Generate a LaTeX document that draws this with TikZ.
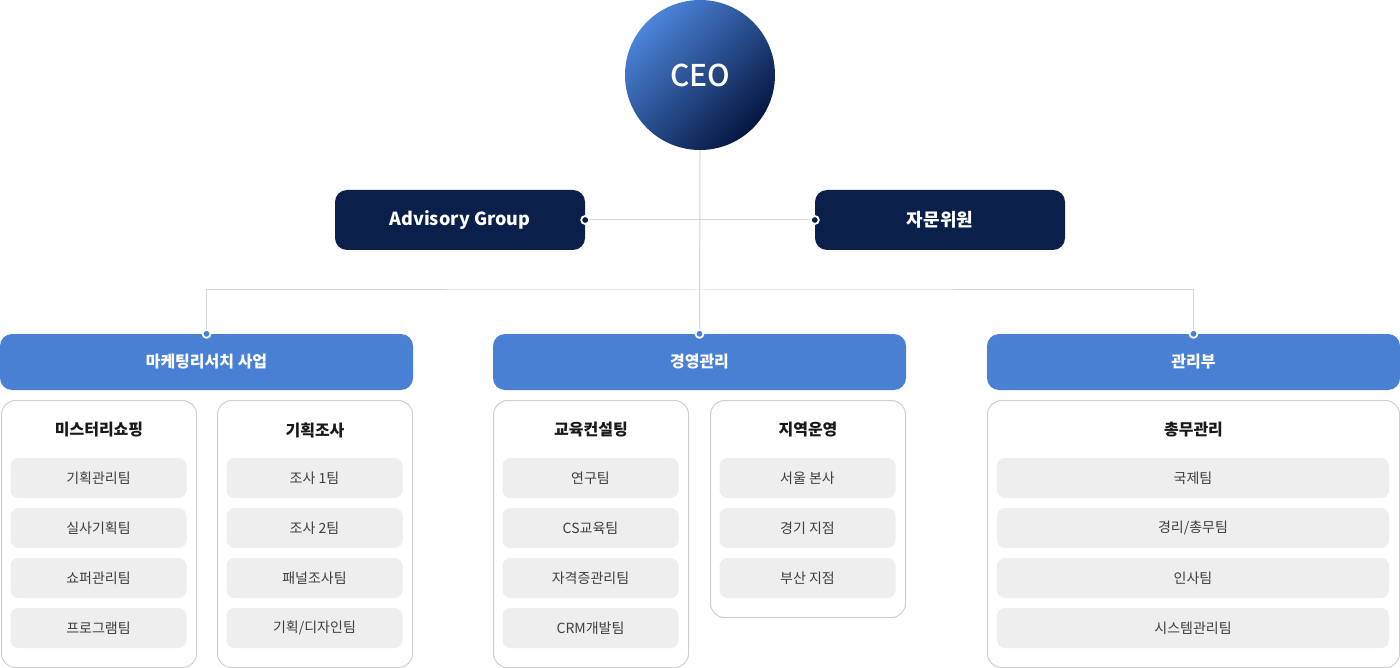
\documentclass[tikz,border=0pt]{standalone}
\usepackage{fontspec}
\setmainfont{Noto Sans CJK KR}
\newfontfamily\medfont{Noto Sans CJK KR Medium}
\usetikzlibrary{positioning}

\definecolor{navy}{HTML}{0B1F4B}
\definecolor{deptblue}{HTML}{4A80D4}
\definecolor{ceolight}{HTML}{4C84DA}
\definecolor{ceodark}{HTML}{051640}
\definecolor{linegray}{HTML}{D6D6D6}
\definecolor{boxgray}{HTML}{CFCFCF}
\definecolor{teamgray}{HTML}{EEEEEE}
\definecolor{teamtext}{HTML}{3E3E3E}

\tikzset{
  advbox/.style={fill=navy, rounded corners=12pt, minimum width=250pt, minimum height=60pt,
    inner sep=0pt, text=white, font=\bfseries\fontsize{18}{20}\selectfont},
  deptbox/.style={fill=deptblue, rounded corners=12pt, minimum width=413pt, minimum height=56pt,
    inner sep=0pt, text=white, font=\bfseries\fontsize{16}{18}\selectfont},
  groupbox/.style={draw=boxgray, fill=white, rounded corners=14pt, line width=1pt,
    minimum width=195pt, inner sep=0pt, anchor=north west},
  grouptitle/.style={text=black!90, font=\bfseries\fontsize{16}{18}\selectfont},
  teambox/.style={fill=teamgray, rounded corners=8pt, minimum width=176pt, minimum height=40pt,
    inner sep=0pt, text=teamtext, font=\fontsize{14}{16}\selectfont},
  link/.style={draw=linegray, line width=1pt},
  joint/.style={circle, fill=#1, draw=white, line width=1.8pt, inner sep=0pt, minimum size=8pt},
}

\begin{document}
\begin{tikzpicture}[x=1pt, y=-1pt]
    \useasboundingbox (0,0) rectangle (1400,668);

    % top
    \node[circle, minimum size=150pt, inner sep=0pt, top color=ceolight, bottom color=ceodark,
      shading angle=45, text=white, font=\medfont\fontsize{30}{32}\selectfont] (ceo) at (700,75) {CEO};
    \node[advbox] (adv) at (460,220) {Advisory Group};
    \node[advbox] (jamun) at (940,220) {자문위원};

    % departments
    \node[deptbox] (mkt) at (206.5,362) {마케팅리서치 사업};
    \node[deptbox] (mgmt) at (699.5,362) {경영관리};
    \node[deptbox] (ga) at (1193.5,362) {관리부};

    % connectors
    \coordinate (bus) at (700,290);
    \draw[link] (ceo.south) -- (mgmt.north);
    \draw[link] (adv.east) -- (jamun.west);
    \draw[link] (mkt.north) |- (bus) -| (ga.north);
    \node[joint=navy] at (adv.east) {};
    \node[joint=navy] at (jamun.west) {};
    \foreach \d in {mkt, mgmt, ga}
        \node[joint=deptblue] at (\d.north) {};

    % groups
    \node[groupbox, minimum height=267pt] (ms) at (1,400) {};
    \node[groupbox, minimum height=267pt] (plan) at (217,400) {};
    \node[groupbox, minimum height=267pt] (edu) at (493,400) {};
    \node[groupbox, minimum height=217pt] (area) at (710,400) {};
    \node[groupbox, minimum height=267pt, minimum width=412pt] (gen) at (987,400) {};

    \node[grouptitle] at ([yshift=-30pt]ms.north) {미스터리쇼핑};
    \node[grouptitle] at ([yshift=-30pt]plan.north) {기획조사};
    \node[grouptitle] at ([yshift=-30pt]edu.north) {교육컨설팅};
    \node[grouptitle] at ([yshift=-30pt]area.north) {지역운영};
    \node[grouptitle] at ([yshift=-30pt]gen.north) {총무관리};

    % teams
    \foreach \t [count=\i] in {기획관리팀, 실사기획팀, 쇼퍼관리팀, 프로그램팀}
        \node[teambox] (ms-\i) at (98.5,428+50*\i) {\t};
    \foreach \t [count=\i] in {조사 1팀, 조사 2팀, 패널조사팀, 기획/디자인팀}
        \node[teambox] (plan-\i) at (314.5,428+50*\i) {\t};
    \foreach \t [count=\i] in {연구팀, CS교육팀, 자격증관리팀, CRM개발팀}
        \node[teambox] (edu-\i) at (590.5,428+50*\i) {\t};
    \foreach \t [count=\i] in {서울 본사, 경기 지점, 부산 지점}
        \node[teambox] (area-\i) at (807.5,428+50*\i) {\t};
    \foreach \t [count=\i] in {국제팀, 경리/총무팀, 인사팀, 시스템관리팀}
        \node[teambox, minimum width=392pt] (gen-\i) at (1193,428+50*\i) {\t};
\end{tikzpicture}
\end{document}
